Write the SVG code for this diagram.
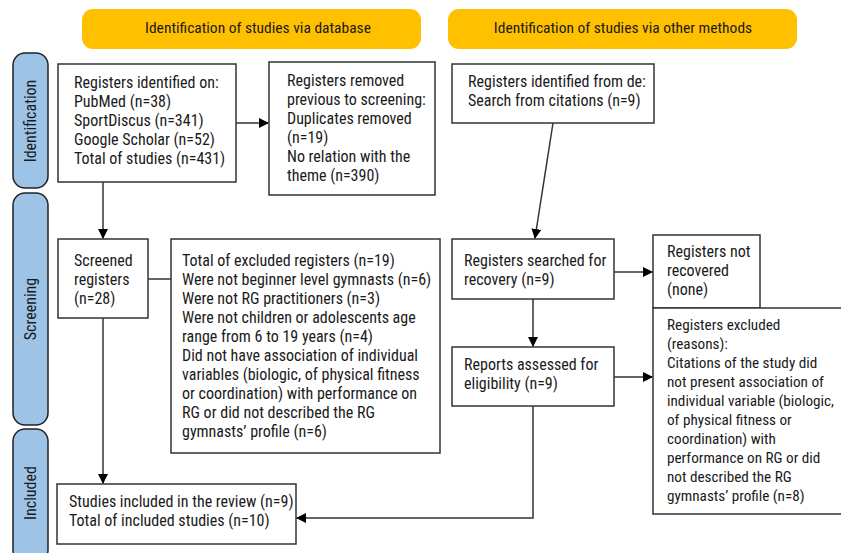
<svg xmlns="http://www.w3.org/2000/svg" width="841" height="553" viewBox="0 0 841 553">
<defs>
<marker id="ah" markerWidth="10" markerHeight="10" refX="9" refY="5" orient="auto" markerUnits="userSpaceOnUse">
<path d="M0,0 L10,5 L0,10 Z" fill="#000"/>
</marker>
<style>
text{font-family:"Liberation Sans Narrow","Roboto Condensed","Arial Narrow","Liberation Sans",sans-serif;font-size:16px;fill:#1a1a1a}
.hd{font-size:15.5px}
.sm{font-size:15.2px}
.box{fill:#fff;stroke:#333;stroke-width:1.5}
.ban{fill:#ffc000;stroke:none}
.side{fill:#9dc3e6;stroke:#222;stroke-width:1.5}
.ln{fill:none;stroke:#333;stroke-width:1.5}
</style>
</defs>
<rect width="841" height="553" fill="#fff"/>
<g id="banner-db"><rect class="ban" x="82" y="9" width="339" height="40" rx="11"/><text class="hd" x="258" y="33" text-anchor="middle">Identification of studies via database</text></g>
<g id="banner-other"><rect class="ban" x="448" y="9" width="349" height="40" rx="11"/><text class="hd" x="623" y="33" text-anchor="middle">Identification of studies via other methods</text></g>
<g id="side-identification"><rect class="side" x="13" y="53" width="35" height="135" rx="12"/><text transform="translate(36,121) rotate(-90)" text-anchor="middle">Identification</text></g>
<g id="side-screening"><rect class="side" x="13" y="193" width="35" height="232" rx="12"/><text transform="translate(36,309) rotate(-90)" text-anchor="middle">Screening</text></g>
<g id="side-included"><rect class="side" x="13" y="429" width="35" height="133" rx="12"/><text transform="translate(36,493) rotate(-90)" text-anchor="middle">Included</text></g>
<g id="identified"><rect class="box" x="58" y="64" width="178" height="118"/>
<text x="74" y="88">Registers identified on:</text><text x="74" y="107">PubMed (n=38)</text><text x="74" y="126">SportDiscus (n=341)</text><text x="74" y="145">Google Scholar (n=52)</text><text x="74" y="164">Total of studies (n=431)</text></g>
<g id="removed"><rect class="box" x="269" y="62" width="166" height="133"/>
<text x="287" y="86">Registers removed</text><text x="287" y="105">previous to screening:</text><text x="287" y="124">Duplicates removed</text><text x="287" y="143">(n=19)</text><text x="287" y="162">No relation with the</text><text x="287" y="181">theme (n=390)</text></g>
<g id="other"><rect class="box" x="452" y="64" width="202" height="59"/>
<text x="468" y="87">Registers identified from de:</text><text x="468" y="106">Search from citations (n=9)</text></g>
<g id="screened"><rect class="box" x="58" y="239" width="90" height="79"/>
<text x="74" y="266">Screened</text><text x="74" y="285">registers</text><text x="74" y="304">(n=28)</text></g>
<g id="excluded"><rect class="box" x="171" y="239" width="269" height="214"/>
<text x="182" y="266">Total of excluded registers (n=19)</text><text x="182" y="285">Were not beginner level gymnasts (n=6)</text><text x="182" y="304">Were not RG practitioners (n=3)</text><text x="182" y="323">Were not children or adolescents age</text><text x="182" y="342">range from 6 to 19 years (n=4)</text><text x="182" y="361">Did not have association of individual</text><text x="182" y="380">variables (biologic, of physical fitness</text><text x="182" y="399">or coordination) with performance on</text><text x="182" y="418">RG or did not described the RG</text><text x="182" y="437">gymnasts’ profile (n=6)</text></g>
<g id="searched"><rect class="box" x="452" y="239" width="162" height="60"/>
<text x="464" y="266">Registers searched for</text><text x="464" y="285">recovery (n=9)</text></g>
<g id="notrecovered"><rect class="box" x="653" y="235" width="107" height="73"/>
<text x="667" y="257">Registers not</text><text x="667" y="276">recovered</text><text x="667" y="295">(none)</text></g>
<g id="reports"><rect class="box" x="452" y="347" width="162" height="59"/>
<text x="464" y="370">Reports assessed for</text><text x="464" y="389">eligibility (n=9)</text></g>
<g id="excluded2"><rect class="box" x="653" y="308" width="200" height="206"/>
<text class="sm" x="667" y="330">Registers excluded</text><text class="sm" x="667" y="349">(reasons):</text><text class="sm" x="667" y="368">Citations of the study did</text><text class="sm" x="667" y="387">not present association of</text><text class="sm" x="667" y="406">individual variable (biologic,</text><text class="sm" x="667" y="425">of physical fitness or</text><text class="sm" x="667" y="444">coordination) with</text><text class="sm" x="667" y="463">performance on RG or did</text><text class="sm" x="667" y="482">not described the RG</text><text class="sm" x="667" y="501">gymnasts’ profile (n=8)</text></g>
<g id="included"><rect class="box" x="57" y="484" width="239" height="60"/>
<text x="69" y="507">Studies included in the review (n=9)</text><text x="69" y="526">Total of included studies (n=10)</text></g>
<g id="connectors">
<line class="ln" x1="236" y1="123" x2="268" y2="123" marker-end="url(#ah)"/>
<line class="ln" x1="103" y1="182" x2="103" y2="238" marker-end="url(#ah)"/>
<line class="ln" x1="148" y1="279" x2="171" y2="279"/>
<line class="ln" x1="103" y1="318" x2="103" y2="483" marker-end="url(#ah)"/>
<line class="ln" x1="553" y1="123" x2="535" y2="238" marker-end="url(#ah)"/>
<line class="ln" x1="614" y1="272" x2="652" y2="272" marker-end="url(#ah)"/>
<line class="ln" x1="533" y1="299" x2="533" y2="346" marker-end="url(#ah)"/>
<line class="ln" x1="614" y1="377" x2="652" y2="377" marker-end="url(#ah)"/>
<polyline class="ln" points="533,406 533,518 297,518" marker-end="url(#ah)"/>
</g>
</svg>
